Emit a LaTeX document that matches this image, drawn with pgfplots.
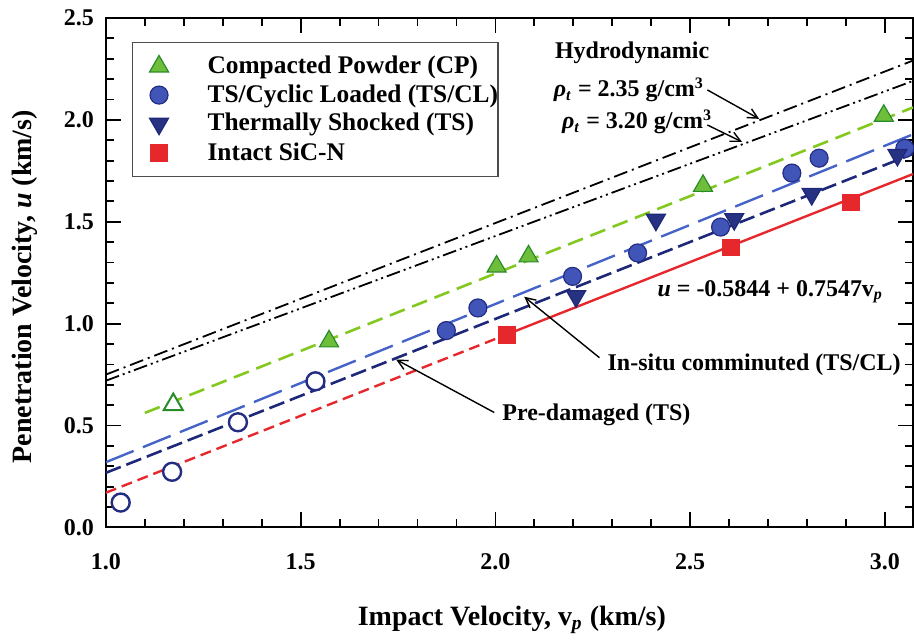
\documentclass[border=0pt]{standalone}
\usepackage{fontspec}
\setmainfont{Liberation Serif}
\usepackage{pgfplots}
\pgfplotsset{compat=1.18}
\usetikzlibrary{arrows.meta,calc}

\definecolor{cpfill}{RGB}{110,190,60}
\definecolor{cpedge}{RGB}{40,140,40}
\definecolor{cpline}{RGB}{130,200,30}
\definecolor{clfill}{RGB}{65,85,185}
\definecolor{cledge}{RGB}{35,45,130}
\definecolor{clline}{RGB}{70,100,200}
\definecolor{tsfill}{RGB}{40,50,130}
\definecolor{tsline}{RGB}{30,40,120}
\definecolor{intact}{RGB}{230,40,45}

\begin{document}
\begin{tikzpicture}
\begin{axis}[
  name=ax,
  scale only axis, width=404pt, height=255pt,
  xmin=1, xmax=3.072, ymin=0, ymax=2.5,
  xtick={1,1.5,2,2.5,3}, ytick={0,0.5,1,1.5,2,2.5},
  minor x tick num=4, minor y tick num=4,
  tick align=inside, tick pos=both,
  major tick length=7.5pt, minor tick length=4pt,
  axis line style={line width=1pt},
  every tick/.style={black, line width=0.9pt},
  /pgf/number format/fixed, /pgf/number format/fixed zerofill,
  /pgf/number format/precision=1, /pgf/number format/assume math mode=true,
  tick label style={font=\fontsize{12}{14}\selectfont\bfseries},
  yticklabel style={xshift=-2.5pt},
  xticklabel style={yshift=-9.5pt},
  xlabel={Impact Velocity, v\textsubscript{\textit{p}} (km/s)},
  ylabel={Penetration Velocity, \textit{u} (km/s)},
  label style={font=\fontsize{14}{16}\selectfont\bfseries},
  xlabel style={at={(axis description cs:0.503,-0.192)}, anchor=base},
  ylabel style={at={(axis description cs:-0.1,0.4725)}, anchor=center},
  legend style={at={(0.0322,0.953)}, anchor=north west, draw=black!70,
    line width=0.6pt, fill=white, font=\fontsize{12.7}{14}\selectfont\bfseries,
    inner xsep=0pt, inner ysep=6.5pt, row sep=4pt, nodes={inner sep=0pt}},
  legend cell align=left,
  legend image code/.code={\path (0pt,0pt) (37pt,0pt);
    \draw[#1, mark repeat=2, mark phase=2] plot coordinates {(0pt,0pt) (13pt,0pt) (26pt,0pt)};},
]

% hydrodynamic limits
\addplot[black, line width=0.9pt, dash pattern=on 7pt off 2.5pt on 1pt off 2.5pt, forget plot]
  coordinates {(1.0,0.750) (3.072,2.291)};
\addplot[black, line width=0.9pt, dash pattern=on 7pt off 2pt on 1pt off 2pt on 1pt off 2pt, forget plot]
  coordinates {(1.0,0.720) (3.072,2.191)};

% fits
\addplot[cpline, line width=1.3pt, dash pattern=on 8pt off 4pt, forget plot]
  coordinates {(1.10,0.562) (3.072,2.061)};
\addplot[clline, line width=1.2pt, dash pattern=on 15pt off 5pt, forget plot]
  coordinates {(1.0,0.320) (3.072,1.929)};
\addplot[tsline, line width=1.3pt, dash pattern=on 8pt off 3pt, forget plot]
  coordinates {(1.0,0.268) (3.072,1.833)};
\addplot[intact, line width=1.2pt, dash pattern=on 5.5pt off 3pt, forget plot]
  coordinates {(1.0,0.1703) (2.03,0.9476)};
\addplot[intact, line width=1.2pt, forget plot]
  coordinates {(2.03,0.9476) (3.072,1.7341)};

% open symbols
\addplot[only marks, mark=triangle*, mark size=5.5pt, mark options={fill=white, draw=cpedge, line width=1pt}, forget plot]
  coordinates {(1.173,0.603)};
\addplot[only marks, mark=*, mark size=4.5pt, mark options={fill=white, draw=cledge, line width=1.2pt}, forget plot]
  coordinates {(1.038,0.122) (1.170,0.273) (1.339,0.516) (1.538,0.717)};

% data
\addplot[only marks, mark=triangle*, mark size=5.5pt, mark options={fill=cpfill, draw=cpedge, line width=0.6pt}]
  coordinates {(1.573,0.913) (2.003,1.280) (2.085,1.330) (2.533,1.676) (2.997,2.020)};
\addlegendentry{Compacted Powder (CP)}
\addplot[only marks, mark=*, mark size=4.5pt, mark options={fill=clfill, draw=cledge, line width=0.6pt}]
  coordinates {(1.874,0.966) (1.955,1.077) (2.198,1.232) (2.365,1.347) (2.578,1.474) (2.761,1.739) (2.831,1.812) (3.051,1.860)};
\addlegendentry{TS/Cyclic Loaded (TS/CL)\hspace{8pt}}
\addplot[only marks, mark=triangle*, mark size=5.5pt, mark options={rotate=180, fill=tsfill, draw=tsline, line width=0.6pt}]
  coordinates {(2.207,1.134) (2.412,1.510) (2.613,1.513) (2.812,1.636) (3.032,1.828)};
\addlegendentry{Thermally Shocked (TS)}
\addplot[only marks, mark=square*, mark size=4.2pt, mark options={fill=intact, draw=intact, line width=0.4pt}]
  coordinates {(2.030,0.944) (2.604,1.374) (2.912,1.595)};
\addlegendentry{Intact SiC-N}

% annotations
\begin{scope}[font=\fontsize{12}{14}\selectfont\bfseries]
\node[anchor=west] at (axis cs:2.135,2.328) {Hydrodynamic};
\node[anchor=west] at (axis cs:2.132,2.147) {\textit{ρ}\textsubscript{\textit{t}} = 2.35 g/cm\textsuperscript{3}};
\node[anchor=west] at (axis cs:2.153,1.990) {\textit{ρ}\textsubscript{\textit{t}} = 3.20 g/cm\textsuperscript{3}};
\node[anchor=west] at (axis cs:2.398,1.157) {\textit{u} = -0.5844 + 0.7547v\textsubscript{\textit{p}}};
\node[anchor=west] at (axis cs:2.270,0.799) {In-situ comminuted (TS/CL)};
\node[anchor=west] at (axis cs:2.000,0.554) {Pre-damaged (TS)};
\end{scope}
\begin{scope}[line width=0.7pt, -{Straight Barb[length=5pt,width=5pt]}]
\draw (axis cs:2.544,2.147) -- (axis cs:2.677,2.005);
\draw (axis cs:2.544,1.975) -- (axis cs:2.633,1.892);
\draw (axis cs:2.267,0.833) -- (axis cs:2.074,1.132);
\draw (axis cs:1.997,0.564) -- (axis cs:1.745,0.824);
\end{scope}
\end{axis}
\path ($(ax.south west)+(-53pt,-52pt)$) rectangle ($(ax.north east)+(0pt,9pt)$);
\end{tikzpicture}
\end{document}
